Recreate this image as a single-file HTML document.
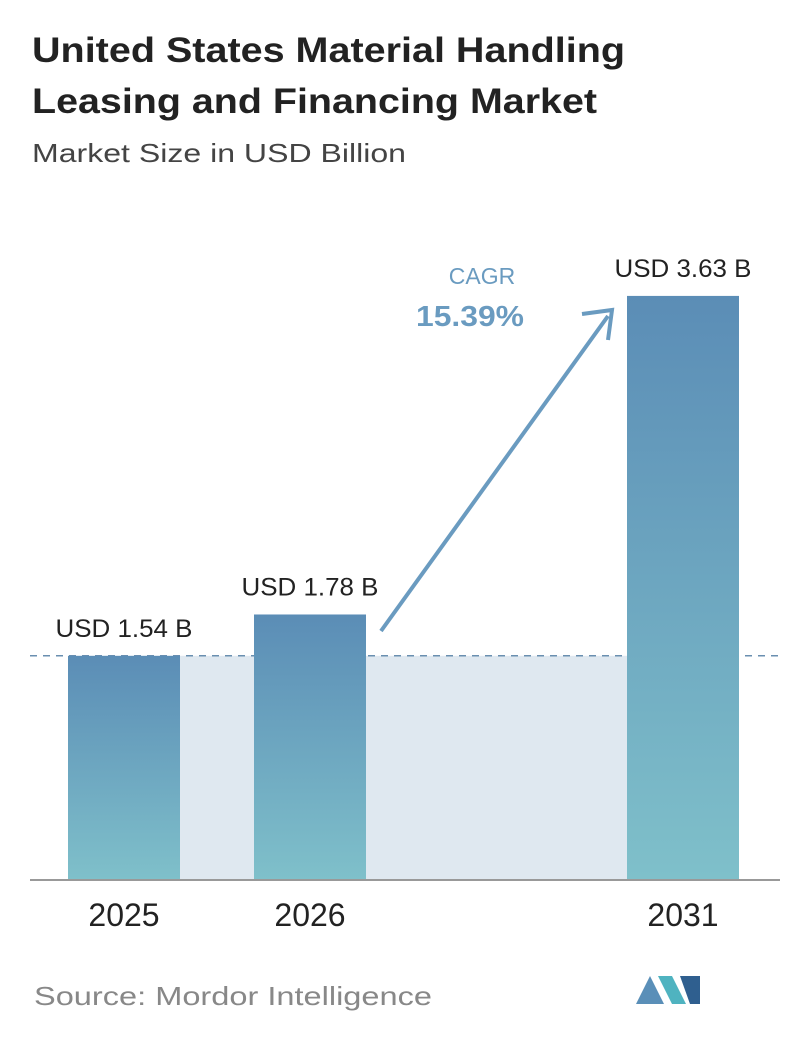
<!DOCTYPE html>
<html><head><meta charset="utf-8"><style>
body{margin:0;background:#fff;width:796px;height:1034px;overflow:hidden;font-family:"Liberation Sans",sans-serif}
</style></head><body>
<svg width="796" height="1034" viewBox="0 0 796 1034">
<defs>
<linearGradient id="g" x1="0" y1="0" x2="0" y2="1"><stop offset="0" stop-color="#5b8db6"/><stop offset="1" stop-color="#7fc0ca"/></linearGradient>
</defs>
<text x="32" y="62" font-size="35" font-weight="bold" fill="#222" textLength="593" lengthAdjust="spacingAndGlyphs">United States Material Handling</text>
<text x="32" y="113" font-size="35" font-weight="bold" fill="#222" textLength="565" lengthAdjust="spacingAndGlyphs">Leasing and Financing Market</text>
<text x="32" y="162" font-size="26" fill="#444" textLength="374" lengthAdjust="spacingAndGlyphs">Market Size in USD Billion</text>
<g id="plot"></g>
<text x="482" y="284" font-size="23" fill="#6a9bc0" text-anchor="middle">CAGR</text>
<text x="470" y="326" font-size="29" font-weight="bold" fill="#6a9bc0" text-anchor="middle" textLength="108" lengthAdjust="spacingAndGlyphs">15.39%</text>
<line x1="381" y1="631" x2="608" y2="316" stroke="#6a9bc0" stroke-width="4"/>
<polyline points="582,314 612,310 608,340" fill="none" stroke="#6a9bc0" stroke-width="4"/>
<text x="34" y="1005" font-size="26" fill="#888" textLength="398" lengthAdjust="spacingAndGlyphs">Source:  Mordor Intelligence</text>
<g>
<polygon points="636,1004 650,976 664,1004" fill="#5a8fb8"/>
<polygon points="658,976 672,976 686,1004 672,1004" fill="#4fb3c0"/>
<polygon points="680,976 700,976 700,1004 690,1004" fill="#2f5f8f"/>
</g>
</svg>
<script>
const categories=["2025","2026","2031"];
const values=[1.54,1.78,3.63];
const labels=["USD 1.54 B","USD 1.78 B","USD 3.63 B"];
const ns="http://www.w3.org/2000/svg";
const g=document.getElementById("plot");
const base=880, xs=[68,254,627], bw=112;
function y(v){return base-(-41+172.2*v);}
function mk(t,a){const e=document.createElementNS(ns,t);for(const k in a)e.setAttribute(k,a[k]);g.appendChild(e);return e;}
const bg=mk("rect",{x:xs[0]+bw,y:y(values[0]),width:xs[2]-xs[0]-bw,height:base-y(values[0]),fill:"#dfe8f0"});


const dl=mk("line",{x1:30,x2:780,y1:y(values[0]),y2:y(values[0]),stroke:"#6a8fb0","stroke-width":1.5,"stroke-dasharray":"7,6"});


values.forEach((v,i)=>{
 const r=mk("rect",{x:xs[i],y:y(v),width:bw,height:base-y(v),fill:"url(#g)"});
 
 
 const t=mk("text",{x:xs[i]+bw/2,y:y(v)-19,"font-size":25,fill:"#222","text-anchor":"middle",textLength:137,lengthAdjust:"spacingAndGlyphs"});
 t.textContent=labels[i];
 
 
 const c=mk("text",{x:xs[i]+bw/2,y:926,"font-size":32,fill:"#222","text-anchor":"middle"});
 c.textContent=categories[i];
 
 
});
const ax=mk("line",{x1:30,x2:780,y1:base,y2:base,stroke:"#999","stroke-width":2});


</script>
</body></html>
